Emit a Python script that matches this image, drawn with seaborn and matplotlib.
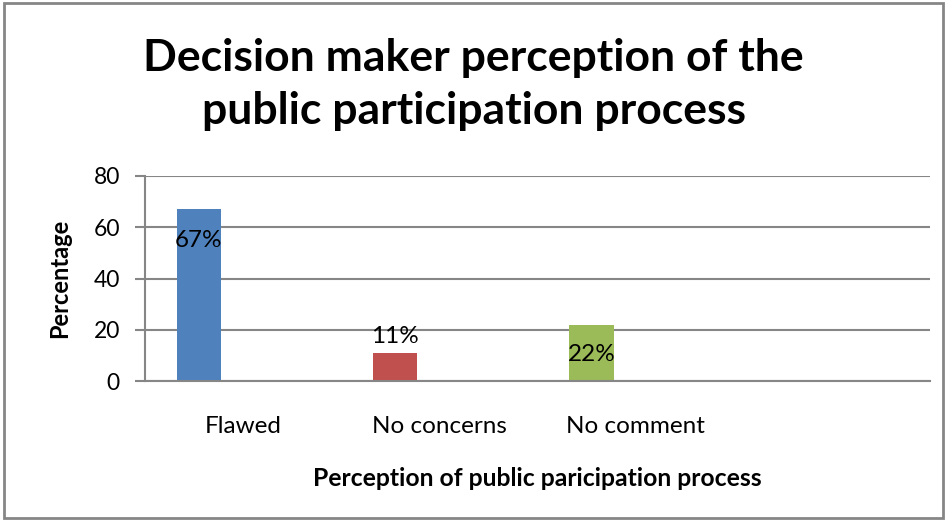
import numpy as np
import pandas as pd
import matplotlib
matplotlib.use('Agg')
import matplotlib.pyplot as plt
import seaborn as sns
from matplotlib.patches import Rectangle

# ── Data ──────────────────────────────────────────────────────────────────────
categories = ['Flawed', 'No concerns', 'No comment']
values     = [67, 11, 22]
labels     = ['67%', '11%', '22%']
colors     = ['#4F81BD', '#C0504D', '#9BBB59']
series     = ['Series1', 'Series2', 'Series3']

df = pd.DataFrame({'category': categories, 'value': values, 'series': series[0]})

# ── Style ─────────────────────────────────────────────────────────────────────
sns.set_style('white')
plt.rcParams['font.family'] = ['Lato', 'DejaVu Sans']
plt.rcParams['text.color'] = 'black'
plt.rcParams['axes.labelcolor'] = 'black'
plt.rcParams['xtick.color'] = 'black'
plt.rcParams['ytick.color'] = 'black'
grey = '#868686'

fig = plt.figure(figsize=(9.47, 5.21), dpi=100)
ax = fig.add_axes([0.1531, 0.2687, 0.829, 0.3935])

sns.barplot(data=df, x='category', y='value', hue='series', hue_order=series,
            order=categories + [' '], dodge=True, width=0.675,
            palette=[colors[0]] * 3, legend=False, ax=ax, saturation=1)

bars = [p for p in ax.patches if p.get_height() > 0]
for bar, c in zip(bars, colors):
    bar.set_facecolor(c)
    bar.set_edgecolor('none')

# data labels (Excel-like placement)
offsets = [-31, 16, -30]
for bar, lab, off in zip(bars, labels, offsets):
    ax.annotate(lab, (bar.get_x() + bar.get_width() / 2, bar.get_height()),
                xytext=(0, off), textcoords='offset pixels',
                ha='center', va='center', fontsize=17.5, color='black')

ax.set_xlim(-0.5, 3.5)
ax.set_ylim(0, 80)
ax.set_yticks([0, 20, 40, 60, 80])
ax.yaxis.grid(True, color=grey, linewidth=1.5)
ax.set_axisbelow(True)
for s in ['top', 'right']:
    ax.spines[s].set_visible(False)
for s in ['left', 'bottom']:
    ax.spines[s].set_color(grey)
    ax.spines[s].set_linewidth(1.5)
ax.tick_params(axis='y', length=7, width=1.5, color=grey, labelcolor='black',
               labelsize=16.5, pad=11, left=True)
ax.tick_params(axis='x', length=0, labelsize=17.5, pad=25)

ax.set_xlabel('Perception of public paricipation process', fontsize=17.8,
              fontweight='bold', labelpad=22)
ax.set_ylabel('Percentage', fontsize=17, fontweight='bold', labelpad=16)

fig.suptitle('Decision maker perception of the\npublic participation process',
             fontsize=32, fontweight='bold', y=0.928, linespacing=1.4,
             color='black')

fig.patches.append(Rectangle((0.004, 0.006), 0.992, 0.988, transform=fig.transFigure,
                             fill=False, edgecolor=grey, linewidth=2))

fig.savefig('out.png', dpi=100)
